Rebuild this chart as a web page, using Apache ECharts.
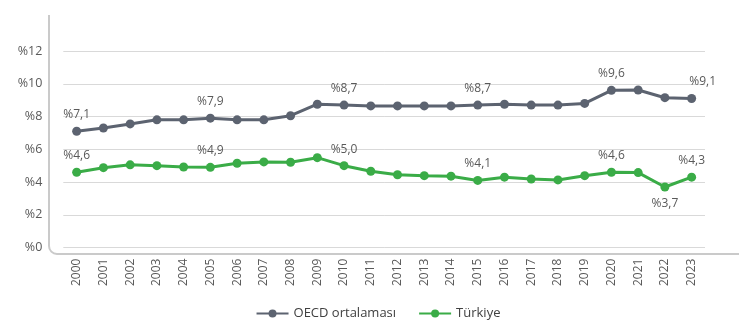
<!DOCTYPE html>
<html>
<head>
<meta charset="utf-8">
<script src="https://cdn.jsdelivr.net/npm/echarts@6/dist/echarts.min.js"></script>
<style>
html,body{margin:0;padding:0;background:#fff;}
#c{width:756px;height:325px;}
</style>
</head>
<body>
<div id="c"></div>
<script>
var years = ['2000','2001','2002','2003','2004','2005','2006','2007','2008','2009','2010','2011','2012','2013','2014','2015','2016','2017','2018','2019','2020','2021','2022','2023'];
var oecd = [7.1,7.3,7.55,7.8,7.8,7.9,7.8,7.8,8.05,8.75,8.7,8.65,8.65,8.65,8.65,8.7,8.75,8.7,8.7,8.8,9.6,9.62,9.15,9.1];
var turkiye = [4.6,4.88,5.05,5.0,4.92,4.9,5.15,5.23,5.21,5.49,5.0,4.66,4.45,4.39,4.36,4.1,4.3,4.19,4.13,4.39,4.6,4.58,3.7,4.3];
var oecdLabeled = ['2000','2005','2010','2015','2020','2023'];
var turLabeled = ['2000','2005','2010','2015','2020','2022','2023'];
var yTicks = [0,2,4,6,8,10,12];

function fmt(v){ return '%' + v.toFixed(1).replace('.', ','); }
var txt = '#595959';
function build(values, labeled, below, shifted){
  return values.map(function(v,i){
    var y = years[i];
    var show = labeled.indexOf(y) >= 0;
    var lbl = {show: show, position: below.indexOf(y)>=0 ? 'bottom' : 'top', distance: 6,
               formatter: function(p){ return fmt(p.value); }, color: txt, fontSize: 12,
               fontFamily: 'Open Sans'};
    if (shifted.indexOf(y) >= 0) lbl.offset = [11, 0];
    return {value: v, label: lbl};
  });
}

var chart = echarts.init(document.getElementById('c'));
var borderStyle = {stroke: '#cacaca', lineWidth: 2, fill: null};
chart.setOption({
  animation: false,
  textStyle: {fontFamily: 'Open Sans'},
  grid: {left: 63.3, right: 51, top: 51, bottom: 77.4, outerBoundsMode: 'none', containLabel: false},
  legend: {
    bottom: 0, left: 'center', itemWidth: 32, itemHeight: 10, itemGap: 22,
    textStyle: {color: '#404040', fontSize: 13, fontFamily: 'Open Sans'},
    data: ['OECD ortalaması', 'Türkiye']
  },
  graphic: [
    {type: 'line', silent: true, shape: {x1: 49, y1: 15, x2: 49, y2: 246}, style: borderStyle},
    {type: 'arc', silent: true, shape: {cx: 57, cy: 246, r: 8, startAngle: Math.PI/2, endAngle: Math.PI}, style: borderStyle},
    {type: 'line', silent: true, shape: {x1: 57, y1: 254, x2: 739, y2: 254}, style: borderStyle}
  ],
  xAxis: {
    type: 'category', data: years, boundaryGap: true,
    axisLine: {show: false}, axisTick: {show: false},
    axisLabel: {rotate: 90, color: txt, fontSize: 12, margin: 11, interval: 0, fontFamily: 'Open Sans'}
  },
  yAxis: {
    type: 'value', min: 0, max: 12, interval: 2,
    axisLine: {show: false}, axisTick: {show: false},
    axisLabel: {color: txt, fontSize: 12.5, margin: 21, padding: [0,0,8,0],
      formatter: function(v){ return yTicks.indexOf(v) >= 0 ? '%' + v : ''; }},
    splitLine: {lineStyle: {color: '#d9d9d9', width: 1}}
  },
  series: [{
    name: 'OECD ortalaması', type: 'line', data: build(oecd, oecdLabeled, [], ['2023']),
    symbol: 'circle', symbolSize: 9, color: '#5c6370',
    lineStyle: {width: 3, color: '#5c6370'}, itemStyle: {color: '#5c6370'}
  }, {
    name: 'Türkiye', type: 'line', data: build(turkiye, turLabeled, ['2022'], []),
    symbol: 'circle', symbolSize: 9, color: '#3aac47',
    lineStyle: {width: 3, color: '#3aac47'}, itemStyle: {color: '#3aac47'}
  }]
});
</script>
</body>
</html>
